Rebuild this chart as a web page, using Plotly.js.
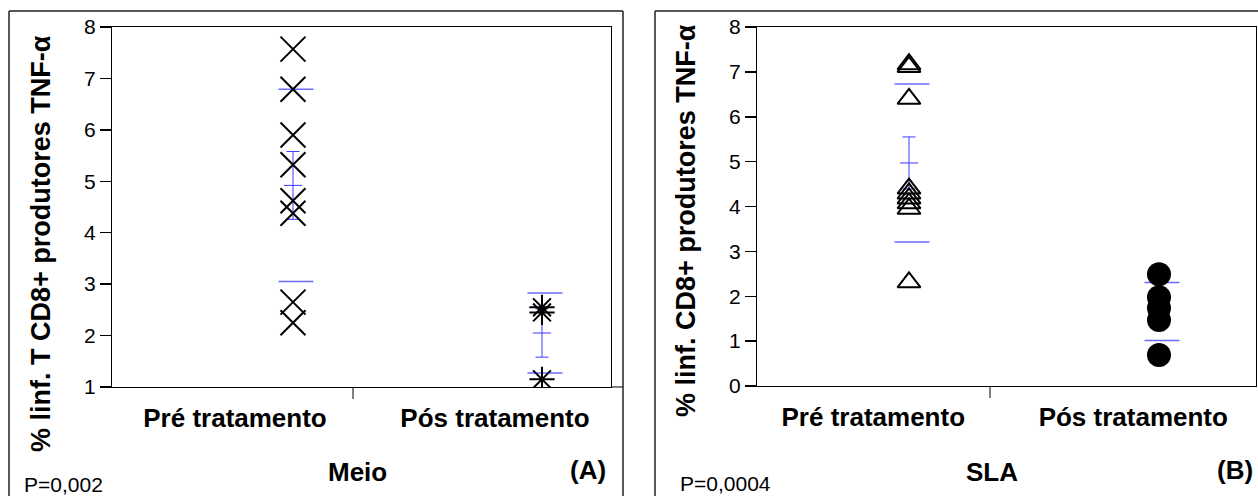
<!DOCTYPE html>
<html>
<head>
<meta charset="utf-8">
<script src="https://cdn.plot.ly/plotly-3.0.1.min.js"></script>
<style>html,body{margin:0;padding:0;background:#fff;}#chart{width:1258px;height:496px;}</style>
</head>
<body>
<div id="chart"></div>
<script>
// ---- data ----
const categories = ["Pré tratamento", "Pós tratamento"];
const meioPre = [7.57, 6.79, 5.90, 5.32, 4.62, 4.38, 2.65, 2.25];
const meioPos = [2.55, 2.45, 1.15];
const slaPre = [7.17, 7.11, 6.40, 4.40, 4.29, 4.18, 4.07, 3.95, 2.31];
const slaPos = [2.49, 1.98, 1.74, 1.47, 0.69];
// summary marks (mean, SD, SEM): [Pré, Pós]
const meioMean = [4.92, 2.05];
const meioSD = [1.87, 0.78];
const meioSEM = [0.66, 0.47];
const slaMean = [4.97, 1.66];
const slaSD = [1.76, 0.645];
const slaSEM = [0.58, 0.29];
const meioTicks = [1, 2, 3, 4, 5, 6, 7, 8];
const slaTicks = [0, 1, 2, 3, 4, 5, 6, 7, 8];
const yTitleMeio = "% linf. T CD8+ produtores TNF-α";
const yTitleSla = "% linf. CD8+ produtores TNF-α";
const panelNames = ["Meio", "SLA"];
const panelTags = ["(A)", "(B)"];
const pValues = ["P=0,002", "P=0,0004"];

// ---- layout helpers ----
const W = 1258, H = 496;
const px = v => v / W;
const py = v => 1 - v / H;
const FONT = "Liberation Sans, Arial, sans-serif";
const BLUE_SD = "#6b6bff";
const BLUE_SEM = "#3a3aff";

const panels = [
  { xa: "x", ya: "y", groups: [meioPre, meioPos], mean: meioMean, sd: meioSD, sem: meioSEM,
    pos: [0.3627, 0.8617], labelPos: [0.2465, 0.7675], midTick: 0.483,
    symbols: [{ s: "x-thin-open", size: 25, w: 2, c: "#000" }, { s: "asterisk-open", size: 21, w: 2, c: "#000" }] },
  { xa: "x2", ya: "y2", groups: [slaPre, slaPos], mean: slaMean, sd: slaSD, sem: slaSEM,
    pos: [0.3046, 0.8056], labelPos: [0.233, 0.754], midTick: 0.467,
    symbols: [{ s: "triangle-up-open", size: 20, w: 2, c: "#000" }, { s: "circle", size: 24, w: 0, c: "#000" }] }
];

const traces = [];
panels.forEach(p => {
  p.groups.forEach((vals, gi) => {
    const m = p.mean[gi], sd = p.sd[gi], sem = p.sem[gi];
    const x0 = p.pos[gi];
    // SD marks
    traces.push({
      type: "scatter", mode: "markers", xaxis: p.xa, yaxis: p.ya, hoverinfo: "skip",
      x: [x0 + 0.006, x0 + 0.006], y: [m - sd, m + sd],
      marker: { symbol: "line-ew", size: 25, color: BLUE_SD, line: { color: BLUE_SD, width: 1.5 } }
    });
    // mean +/- SEM
    traces.push({
      type: "scatter", mode: "markers", xaxis: p.xa, yaxis: p.ya, hoverinfo: "skip",
      x: [x0], y: [m],
      marker: { symbol: "line-ew", size: 13, color: BLUE_SEM, line: { color: BLUE_SEM, width: 1 } },
      error_y: { type: "data", array: [sem], visible: true, color: BLUE_SEM, thickness: 1, width: 6.5 }
    });
    // points
    const sym = p.symbols[gi];
    traces.push({
      type: "scatter", mode: "markers", xaxis: p.xa, yaxis: p.ya,
      x: vals.map(() => x0), y: vals,
      marker: { symbol: sym.s, size: sym.size, color: sym.c, line: { color: sym.c, width: sym.w } }
    });
  });
});

function xAxis(dom, labelPos) {
  return {
    domain: dom, range: [0, 1], fixedrange: true,
    showline: true, linecolor: "#000", linewidth: 1, mirror: true,
    showgrid: false, zeroline: false,
    tickmode: "array", tickvals: labelPos, ticktext: categories,
    ticks: "outside", ticklen: 8, tickcolor: "rgba(0,0,0,0)",
    tickfont: { family: FONT, size: 26, color: "#000", weight: "bold" }
  };
}
function yAxis(dom, range, ticks) {
  return {
    domain: dom, range: range, fixedrange: true,
    showline: true, linecolor: "#000", linewidth: 1, mirror: true,
    showgrid: false, zeroline: false,
    tickmode: "array", tickvals: ticks, ticktext: ticks.map(String),
    ticks: "outside", ticklen: 11, tickwidth: 1.5, tickcolor: "#000",
    tickfont: { family: FONT, size: 21, color: "#000" }
  };
}

const line = (x0, y0, x1, y1, w, c) => ({ type: "line", xref: "paper", yref: "paper",
  x0: px(x0), y0: py(y0), x1: px(x1), y1: py(y1), line: { color: c || "#222", width: w || 1.5 } });

const shapes = [
  // outer frames
  line(9, 11, 623, 11), line(9, 11, 9, 496), line(623, 11, 623, 496),
  line(655, 11, 1258, 11), line(655, 11, 655, 496),
  // extension of left x axis line to frame
  line(611, 387, 623, 387, 1, "#000"),
  // middle ticks
  { type: "line", xref: "x", yref: "paper", x0: panels[0].midTick, x1: panels[0].midTick, y0: py(387), y1: py(399), line: { color: "#000", width: 1 } },
  { type: "line", xref: "x2", yref: "paper", x0: panels[1].midTick, x1: panels[1].midTick, y0: py(386), y1: py(398), line: { color: "#000", width: 1 } }
];

const ann = (text, x, y, opts) => Object.assign({
  text: text, xref: "paper", yref: "paper", x: px(x), y: py(y), showarrow: false,
  xanchor: "center", yanchor: "middle",
  font: { family: FONT, size: 26, color: "#000", weight: "bold" }
}, opts || {});

const annotations = [
  ann(yTitleMeio, 41, 244, { textangle: -90, font: { family: FONT, size: 27, color: "#000", weight: "bold" } }),
  ann(yTitleSla, 686, 221, { textangle: -90, font: { family: FONT, size: 27, color: "#000", weight: "bold" } }),
  ann(panelNames[0], 357.5, 472),
  ann(panelNames[1], 991.7, 472),
  ann(panelTags[0], 588, 470),
  ann(panelTags[1], 1235, 470),
  ann(pValues[0], 22, 484, { xanchor: "left", font: { family: FONT, size: 21, color: "#000" } }),
  ann(pValues[1], 678, 483, { xanchor: "left", font: { family: FONT, size: 21, color: "#000" } })
];

const layout = {
  width: W, height: H, margin: { l: 0, r: 0, t: 0, b: 0 },
  paper_bgcolor: "#fff", plot_bgcolor: "#fff", showlegend: false,
  xaxis: xAxis([px(112), px(611)], panels[0].labelPos),
  yaxis: yAxis([py(387), py(27)], [1, 8], meioTicks),
  xaxis2: xAxis([px(757), px(1256)], panels[1].labelPos),
  yaxis2: yAxis([py(386), py(27)], [0, 8], slaTicks),
  shapes: shapes, annotations: annotations
};
layout.xaxis2.anchor = "y2";
layout.yaxis2.anchor = "x2";

Plotly.newPlot("chart", traces, layout, { staticPlot: true, displayModeBar: false });
</script>
</body>
</html>
